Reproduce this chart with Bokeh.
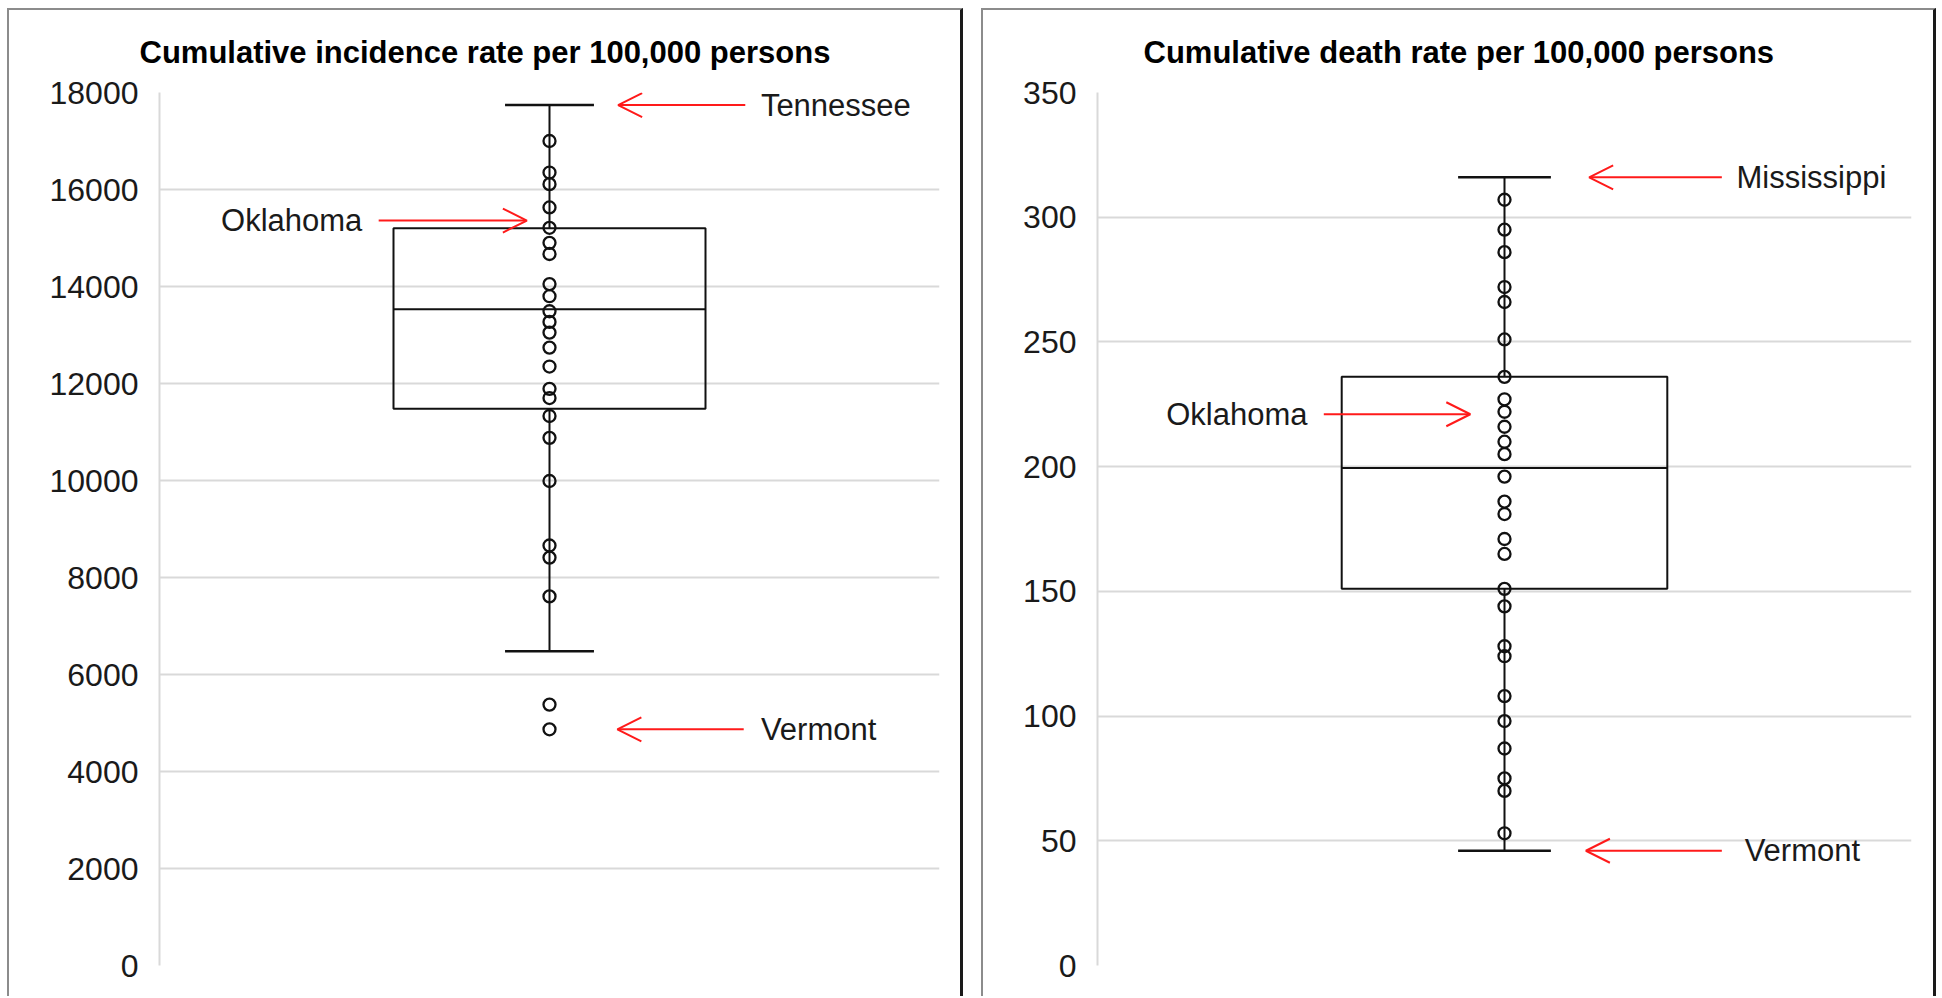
from bokeh.plotting import figure
from bokeh.models import (Range1d, Label, Arrow, OpenHead, FixedTicker,
                          NumeralTickFormatter, Title, Spacer)
from bokeh.layouts import row, column
from bokeh.embed import file_html
from bokeh.resources import INLINE

FONT = "Liberation Sans"

# ---------------- data: incidence ----------------
inc_title = "Cumulative incidence rate per 100,000 persons"
inc_ticks = [0, 2000, 4000, 6000, 8000, 10000, 12000, 14000, 16000, 18000]
inc_points = [17000, 16350, 16110, 15630, 15210, 14900, 14670, 14050, 13800,
              13490, 13270, 13050, 12740, 12350, 11890, 11700, 11330, 10880,
              9990, 8660, 8410, 7610, 5380, 4870]
# whisker low, q1, median, q3, whisker high
inc_box = [6480, 11480, 13530, 15200, 17740]
inc_states = ["Tennessee", "Oklahoma", "Vermont"]
inc_state_values = [17740, 15360, 4870]

# ---------------- data: deaths ----------------
dth_title = "Cumulative death rate per 100,000 persons"
dth_ticks = [0, 50, 100, 150, 200, 250, 300, 350]
dth_points = [307, 295, 286, 272, 266, 251, 236, 227, 222, 216, 210, 205, 196,
              186, 181, 171, 165, 151, 144, 128, 124, 108, 98, 87, 75, 70, 53]
dth_box = [46, 151, 199.5, 236, 316]
dth_states = ["Mississippi", "Oklahoma", "Vermont"]
dth_state_values = [316, 221, 46]

# ---------------- annotation layout (fractions of plot width) ----------------
# (arrow tail x, arrow tip x, text x, text align)
inc_layout = [(0.751, 0.588, 0.771, "left"),
              (0.281, 0.471, 0.260, "right"),
              (0.749, 0.587, 0.771, "left")]
dth_layout = [(0.767, 0.604, 0.785, "left"),
              (0.278, 0.458, 0.258, "right"),
              (0.767, 0.600, 0.795, "left")]

CENTER = 0.5
BOX_W = 0.4
CAP_W = 0.114
HEIGHT = 988
MB_TOP = 82
MB_BOTTOM = 33


def make_panel(title, ticks, points, box, states, state_values, layout,
               width, mbl, mbr, title_offset):
    ymax = ticks[-1]
    p = figure(width=width, height=HEIGHT,
               x_range=Range1d(0, 1), y_range=Range1d(0, ymax),
               output_backend="svg", toolbar_location=None,
               x_axis_location=None,
               min_border_left=mbl, min_border_right=mbr,
               min_border_top=MB_TOP, min_border_bottom=MB_BOTTOM,
               background_fill_color="white", border_fill_color="white",
               outline_line_color=None,
               styles={"border-left": "2px solid #8c8c8c",
                       "border-top": "2px solid #8c8c8c",
                       "border-right": "3px solid #1a1a1a"})
    p.xgrid.visible = False
    p.yaxis.ticker = FixedTicker(ticks=ticks)
    p.ygrid.ticker = FixedTicker(ticks=ticks)
    p.ygrid.grid_line_color = "#d9d9d9"
    p.ygrid.grid_line_width = 2
    p.yaxis.formatter = NumeralTickFormatter(format="0")
    p.yaxis.major_tick_line_color = None
    p.yaxis.minor_tick_line_color = None
    p.yaxis.major_tick_out = 0
    p.yaxis.major_tick_in = 0
    p.yaxis.minor_tick_out = 0
    p.yaxis.axis_line_color = "#d9d9d9"
    p.yaxis.axis_line_width = 2
    p.yaxis.major_label_text_font = FONT
    p.yaxis.major_label_text_font_size = "32px"
    p.yaxis.major_label_text_color = "#1a1a1a"
    p.yaxis.major_label_standoff = 21

    lo, q1, med, q3, hi = box
    p.quad(left=[CENTER - BOX_W / 2], right=[CENTER + BOX_W / 2],
           bottom=[q1], top=[q3], fill_color=None,
           line_color="#111111", line_width=2)
    p.segment(x0=[CENTER - BOX_W / 2], x1=[CENTER + BOX_W / 2],
              y0=[med], y1=[med], line_color="#111111", line_width=2)
    p.segment(x0=[CENTER, CENTER], x1=[CENTER, CENTER],
              y0=[lo, q3], y1=[q1, hi], line_color="#111111", line_width=2)
    p.segment(x0=[CENTER - CAP_W / 2] * 2, x1=[CENTER + CAP_W / 2] * 2,
              y0=[lo, hi], y1=[lo, hi], line_color="#111111", line_width=2.5)
    p.scatter(x=[CENTER] * len(points), y=points, marker="circle", size=12,
              fill_color=None, line_color="#111111", line_width=2.3)

    for name, v, (tail, tip, tx, align) in zip(states, state_values, layout):
        p.add_layout(Arrow(x_start=tail, y_start=v, x_end=tip, y_end=v,
                           line_color="#ff1a1a", line_width=2,
                           end=OpenHead(size=24, line_color="#ff1a1a",
                                        line_width=2)))
        p.add_layout(Label(x=tx, y=v, text=name, text_align=align,
                           text_baseline="middle", text_font=FONT,
                           text_font_size="31px", text_color="#1a1a1a"))

    p.add_layout(Title(text=title, align="left", offset=title_offset,
                       standoff=45, text_font=FONT, text_font_size="31px",
                       text_font_style="bold", text_color="#000000"), "above")
    return p


p1 = make_panel(inc_title, inc_ticks, inc_points, inc_box, inc_states,
                inc_state_values, inc_layout, width=956, mbl=150, mbr=26,
                title_offset=-20)
p2 = make_panel(dth_title, dth_ticks, dth_points, dth_box, dth_states,
                dth_state_values, dth_layout, width=955, mbl=114, mbr=27,
                title_offset=46)

layout = column(Spacer(height=8),
                row(Spacer(width=7), p1, Spacer(width=18), p2, spacing=0),
                spacing=0)

open("out.html", "w").write(file_html(layout, INLINE))
